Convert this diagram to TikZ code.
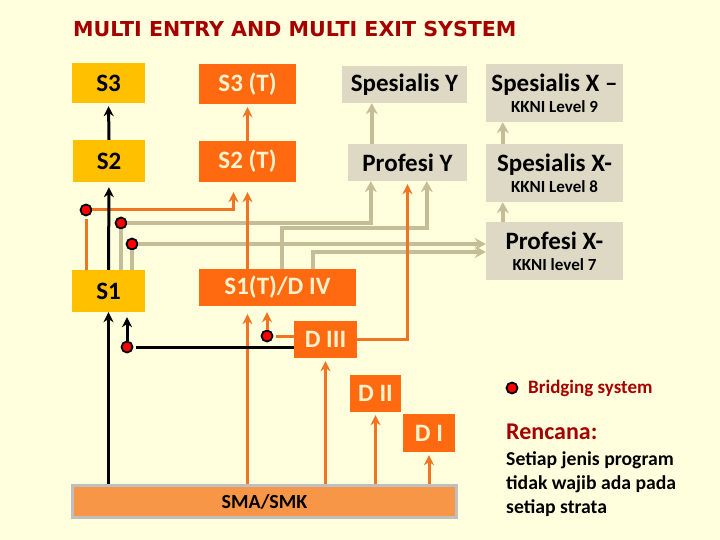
\documentclass[tikz,border=0pt]{standalone}
\usepackage{fontspec}
\setmainfont{Carlito}
\newfontfamily\titlefont{DejaVu Sans}
\usetikzlibrary{
  arrows.meta,
  calc
}
\definecolor{bgyellow}{HTML}{FFFFDD}
\definecolor{sgold}{HTML}{FFC000}
\definecolor{torange}{HTML}{FF6A10}
\definecolor{lineorange}{HTML}{F07522}
\definecolor{ybeige}{HTML}{DDD9C4}
\definecolor{linegrey}{HTML}{C4BD97}
\definecolor{smaorange}{HTML}{F79646}
\definecolor{smaborder}{HTML}{BFBFBF}
\definecolor{titlered}{HTML}{A50000}
\definecolor{pale}{HTML}{FFF2CC}

\begin{document}
\begin{tikzpicture}[
  x=1pt, y=-1pt,
  box/.style={
    inner sep=0pt, align=center, font=\fontsize{25}{21}\selectfont\bfseries,
  },
  sbox/.style={box, fill=sgold, text=black},
  tbox/.style={box, fill=torange, text=pale},
  ybox/.style={box, fill=ybeige, text=black},
  bridge/.style={
    circle, draw=black, line width=1.8pt, fill=red, minimum size=11pt, inner sep=0pt,
  },
  blk/.style={draw=black, line width=3pt, -{Stealth[length=10pt,width=10pt]}, shorten >=3pt},
  org/.style={draw=lineorange, line width=3pt, -{Stealth[length=10pt,width=10pt]}, shorten >=3pt},
  gry/.style={draw=linegrey, line width=3.5pt, -{Stealth[length=11pt,width=12pt]}},
]
\fill[bgyellow] (0,0) rectangle (720,540);
\useasboundingbox (0,0) rectangle (720,540);

% title
\node[anchor=base west, inner sep=0pt, text=titlered,
  font=\titlefont\bfseries\fontsize{20.6}{20.6}\selectfont] (title) at (73,37)
  {MULTI ENTRY AND MULTI EXIT SYSTEM};

% academic ladder
\node[sbox, minimum width=73pt, minimum height=40pt] (s3) at (108.5,83) {S3};
\node[sbox, minimum width=72pt, minimum height=42pt] (s2) at (109,161) {S2};
\node[sbox, minimum width=73pt, minimum height=42pt] (s1) at (108.5,291) {S1};

% applied ladder
\node[tbox, minimum width=97pt, minimum height=40pt] (s3t) at (247.5,84) {S3 (T)};
\node[tbox, minimum width=97pt, minimum height=41pt] (s2t) at (247.5,161.5) {S2 (T)};
\node[tbox, minimum width=157pt, minimum height=37pt] (s1t) at (277.5,287.5) {S1(T)/D IV};
\node[tbox, minimum width=63pt, minimum height=37pt] (d3) at (325.5,339.5) {D III};
\node[tbox, minimum width=51pt, minimum height=37pt] (d2) at (375.5,393.5) {D II};
\node[tbox, minimum width=52pt, minimum height=38pt] (d1) at (429,433) {D I};

% professional ladder
\node[ybox, minimum width=125pt, minimum height=37pt] (spy) at (404.5,84.5) {Spesialis Y};
\node[ybox, minimum width=119pt, minimum height=37pt] (pry) at (407.5,162.5) {Profesi Y};
\node[ybox, minimum width=137pt, minimum height=58pt] (spx9) at (554.5,93)
  {Spesialis X --\\{\fontsize{17}{21}\selectfont KKNI Level 9}};
\node[ybox, minimum width=137pt, minimum height=58pt] (spx8) at (554.5,173)
  {Spesialis X-\\{\fontsize{17}{21}\selectfont KKNI Level 8}};
\node[ybox, minimum width=137pt, minimum height=58pt] (prx) at (554.5,251)
  {Profesi X-\\{\fontsize{17}{21}\selectfont KKNI level 7}};

% entry level
\node[draw=smaborder, line width=3pt, fill=smaorange, minimum width=384pt, minimum height=32pt,
  inner sep=0pt, font=\fontsize{20}{20}\selectfont\bfseries] (sma) at (264.5,501.5) {SMA/SMK};

% bridging points
\node[bridge] (b1) at (86,210) {};
\node[bridge] (b2) at (121,223) {};
\node[bridge] (b3) at (132,244) {};
\node[bridge] (b4) at (267,336) {};
\node[bridge] (b5) at (127,347) {};

% grey links
\draw[gry] ($(pry.north west)+(24,0)$) -- ($(spy.south west)+(30,0)$);
\draw[gry] ($(spx8.north west)+(17,0)$) -- ($(spx9.south west)+(17,0)$);
\draw[gry] ($(prx.north west)+(17,0)$) -- ($(spx8.south west)+(17,0)$);
\draw[gry, -] (b2 |- s1.north) -- (b2);
\draw[gry] (b2) -| ($(pry.south west)+(23,0)$);
\draw[gry] ($(s1t.north west)+(83,0)$) -- ++(0,-41) -| ($(pry.south west)+(79,0)$);
\draw[gry, -] (b3 |- s1.north) -- (b3);
\draw[gry] (b3) -- (b3 -| prx.west);
\draw[gry] ($(s1t.north west)+(114,0)$) |- ($(prx.west)+(0,1)$);

% orange links
\draw[org, shorten >=8pt] (s2t |- sma.north) -- (s2t |- s1t.south);
\draw[org, shorten >=10pt] (s2t |- s1t.north) -- (s2t.south);
\draw[org] (s2t.north) -- (s3t.south);
\draw[org] (d3.south |- sma.north) -- (d3.south);
\draw[org] (d2.south |- sma.north) -- (d2.south);
\draw[org] (d1.south |- sma.north) -- (d1.south);
\draw[org, -] (b1 |- s1.north) -- (b1);
\draw[org, shorten >=10pt] (b1) -| ([xshift=-14pt]s2t.south);
\draw[org, -] (d3.west |- b4) -- (b4);
\draw[org, shorten >=6pt] (b4) -- (b4 |- s1t.south);
\draw[org] (d3.east) -| (pry.south);

% black links
\draw[blk] (s2.north) -- (s3.south);
\draw[blk, shorten >=5pt] (s1.north) -- (s2.south);
\draw[blk, shorten >=0pt] (s1.south |- sma.north) -- (s1.south);
\draw[blk, -] (d3.west |- b5) -- (b5);
\draw[blk, shorten >=5pt] (b5) -- (b5 |- s1.south);

% legend and note
\node[bridge] (legdot) at (512,388) {};
\node[anchor=base west, inner sep=0pt, text=titlered, font=\fontsize{19}{19}\selectfont\bfseries]
  (legtext) at (528,393) {Bridging system};
\node[anchor=base west, inner sep=0pt, text=titlered, font=\fontsize{24}{24}\selectfont\bfseries]
  (rencana) at (506,439) {Rencana:};
\node[anchor=north west, inner sep=0pt, align=left, font=\fontsize{19.7}{24}\selectfont\bfseries]
  (note) at (506,451) {Setiap jenis program\\tidak wajib ada pada\\setiap strata};

\end{tikzpicture}
\end{document}
